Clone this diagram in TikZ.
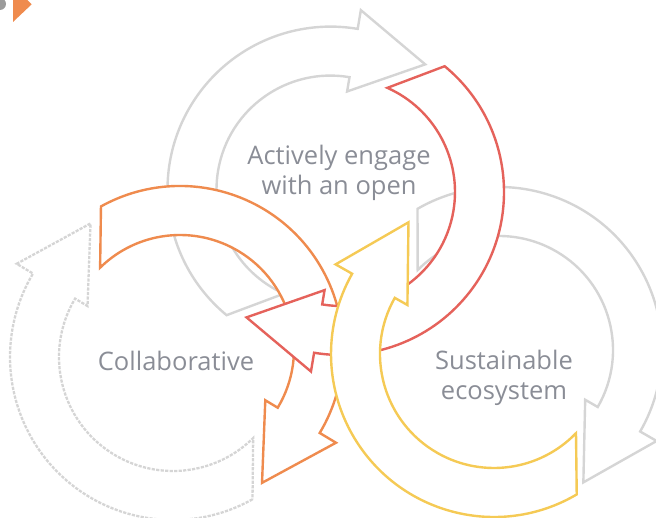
\documentclass[tikz,border=0pt]{standalone}
\usepackage{fontspec}
\setmainfont{Open Sans}
\usepackage{xcolor}
\usetikzlibrary{positioning}

\definecolor{ringgrey}{HTML}{D5D5D5}
\definecolor{cyclered}{HTML}{E5625B}
\definecolor{cycleorange}{HTML}{EF8B4E}
\definecolor{cycleyellow}{HTML}{F5CA55}
\definecolor{textgrey}{HTML}{8A8D96}
\definecolor{dotgrey}{HTML}{9B9B9B}

\begin{document}
\begin{tikzpicture}[
    x=1pt, y=1pt,
    ringline/.style={line width=2.4pt, fill=white, line join=miter},
    ringgray/.style={ringline, draw=ringgrey},
    ringdash/.style={ringline, draw=ringgrey, line width=2.3pt, dash pattern=on 3.2pt off 1.3pt},
    ringred/.style={ringline, draw=cyclered},
    ringorange/.style={ringline, draw=cycleorange},
    ringyellow/.style={ringline, draw=cycleyellow},
    ringtext/.style={font=\fontsize{25.5}{30}\selectfont, text=textgrey, align=center, inner sep=0pt}
]
\useasboundingbox (0,0) rectangle (656,518);

% corner marks
\fill[dotgrey] (0,514) circle (6);
\fill[cycleorange] (13,532) -- (13,496) -- (31.7,513.7) -- cycle;

% ring arrows: centre x / centre y / tail angle / style
\foreach \cx/\cy/\ta/\sty in {330.5/328.4/230.4/ringgray, 173/161/-60.8/ringdash,
    499/168/120/ringgray, 180/169/119/ringorange, 341/326/50.5/ringred,
    494/164/-59.5/ringyellow}{
  \pgfmathsetmacro\ti{\ta+15.5}
  \pgfmathsetmacro\hb{\ta-150}
  \begin{scope}[shift={(\cx,\cy)}]
    \draw[\sty] (\ta:163) arc[start angle=\ta, end angle=\hb, radius=163]
      -- (\hb:182) -- ({\hb-27.5}:157) -- (\hb:99.5) -- (\hb:114)
      arc[start angle=\hb, end angle=\ti, radius=114] -- cycle;
  \end{scope}
}

\node[ringtext, anchor=base] (engage) at (339,323) {Actively engage\\with an open};
\node[ringtext, anchor=base] (collab) at (176,147) {Collaborative};
\node[ringtext, anchor=base] (sustain) at (504,118) {Sustainable\\ecosystem};
\end{tikzpicture}
\end{document}
